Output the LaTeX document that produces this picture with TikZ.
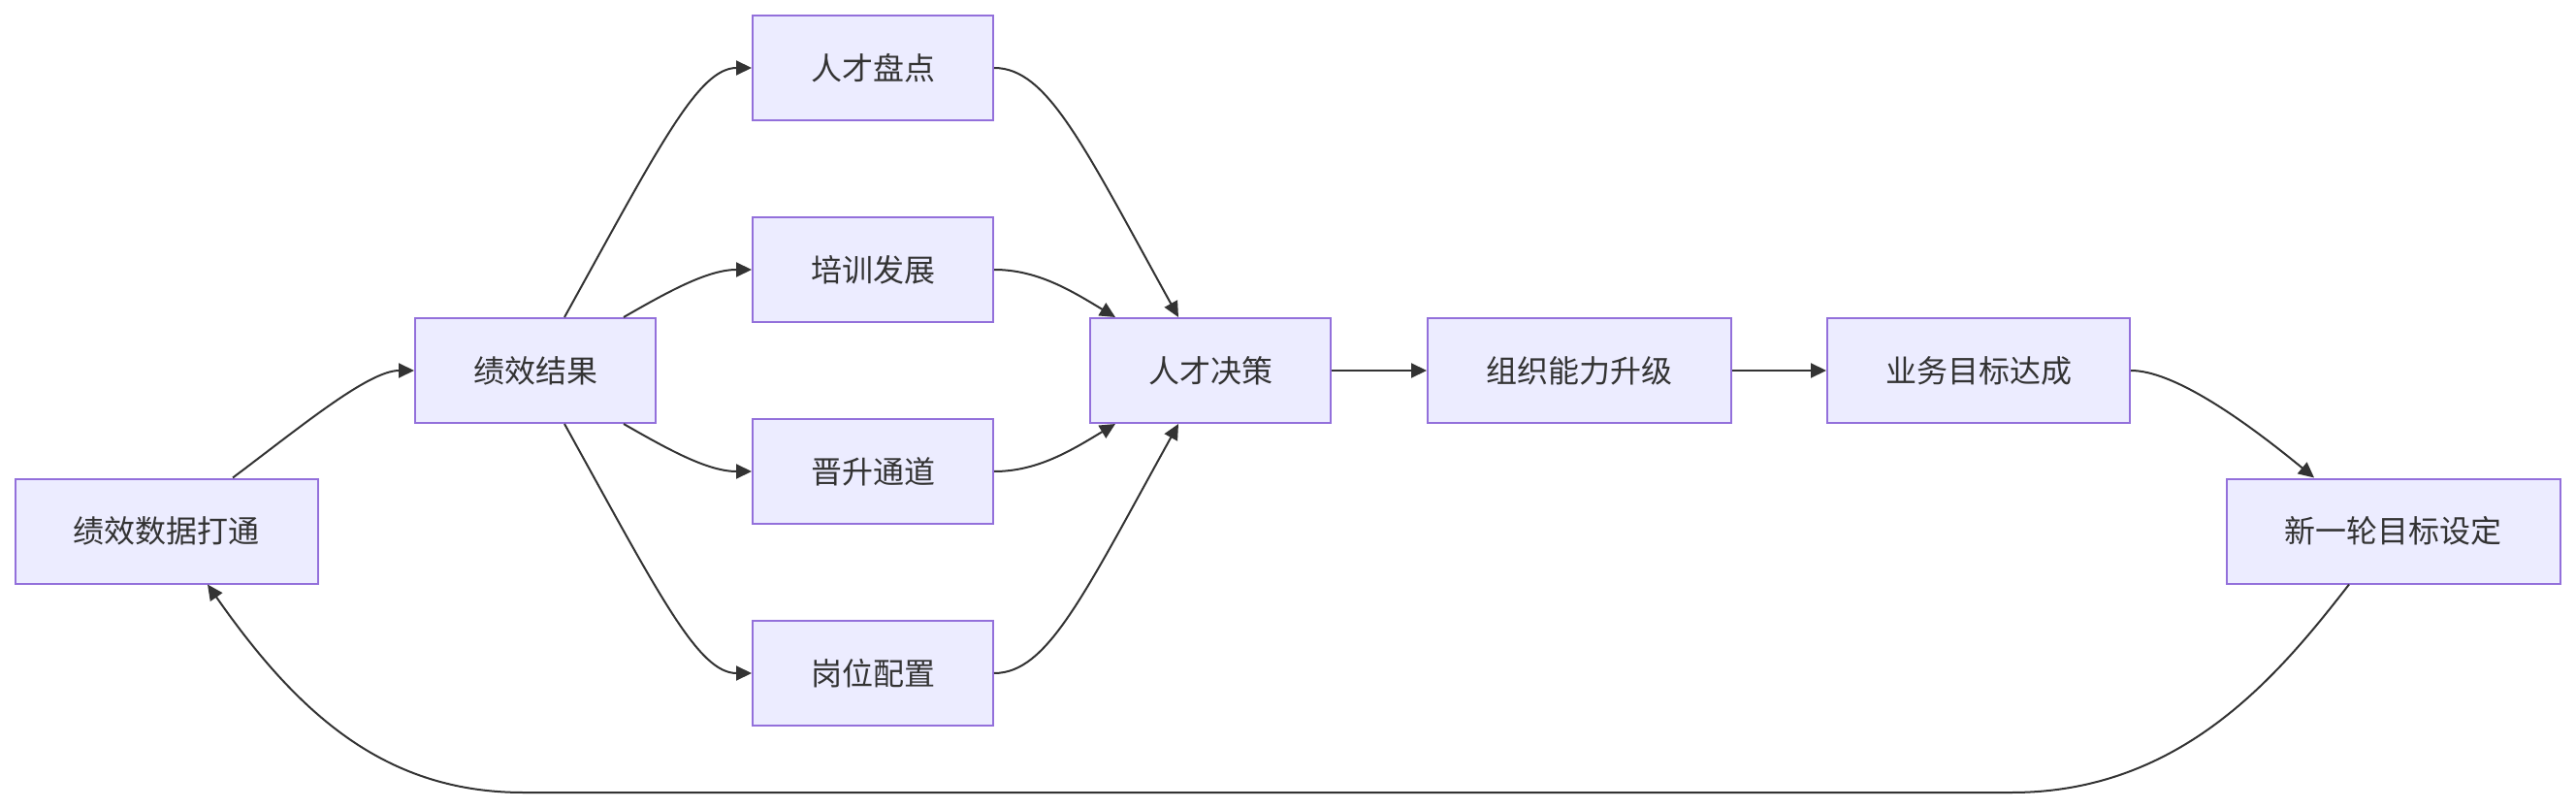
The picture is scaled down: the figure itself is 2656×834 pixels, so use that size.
\documentclass[tikz,border=0pt]{standalone}
\usepackage{fontspec}
\setmainfont{Noto Sans CJK SC}
\usetikzlibrary{arrows.meta,calc}
\definecolor{boxfill}{HTML}{ECECFF}
\definecolor{boxline}{HTML}{9370DB}
\definecolor{edgecol}{HTML}{333333}
\definecolor{txtcol}{HTML}{333333}
\begin{document}
\begin{tikzpicture}[x=1pt,y=-1pt,
  procbox/.style={draw=boxline,fill=boxfill,line width=2pt,inner sep=0pt,
    minimum height=108pt,text=txtcol,font=\fontsize{32pt}{38pt}\selectfont},
  flow/.style={draw=edgecol,line width=2pt,-{Triangle[length=16pt,width=15pt]}}]
\useasboundingbox (0,0) rectangle (2656,834);
\node[procbox,minimum width=312pt] (A) at (171.5,547.5) {绩效数据打通};
\node[procbox,minimum width=248pt] (B) at (552,382) {绩效结果};
\node[procbox,minimum width=248pt] (C1) at (900,70) {人才盘点};
\node[procbox,minimum width=248pt] (C2) at (900,278) {培训发展};
\node[procbox,minimum width=248pt] (C3) at (900,486) {晋升通道};
\node[procbox,minimum width=248pt] (C4) at (900,694) {岗位配置};
\node[procbox,minimum width=248pt] (D) at (1248,382) {人才决策};
\node[procbox,minimum width=313pt] (E) at (1628.5,382) {组织能力升级};
\node[procbox,minimum width=312pt] (F) at (2040,382) {业务目标达成};
\node[procbox,minimum width=344pt] (G) at (2467.5,547.5) {新一轮目标设定};

\draw[flow] ([xshift=68.5pt]A.north) .. controls (310,440) and (380,382) .. (B.west);
\draw[flow] ([xshift=30pt]B.north) .. controls (680,150) and (720,70) .. (C1.west);
\draw[flow] ([xshift=91pt]B.north) .. controls (690,300) and (730,278) .. (C2.west);
\draw[flow] ([xshift=91pt]B.south) .. controls (690,464) and (730,486) .. (C3.west);
\draw[flow] ([xshift=30pt]B.south) .. controls (680,614) and (720,694) .. (C4.west);
\draw[flow] (C1.east) .. controls (1080,70) and (1117,150) .. ([xshift=-33pt]D.north);
\draw[flow] (C2.east) .. controls (1070,278) and (1105,300) .. ([xshift=-98pt]D.north);
\draw[flow] (C3.east) .. controls (1070,486) and (1105,464) .. ([xshift=-98pt]D.south);
\draw[flow] (C4.east) .. controls (1080,694) and (1117,614) .. ([xshift=-33pt]D.south);
\draw[flow] (D.east) -- (E.west);
\draw[flow] (E.east) -- (F.west);
\draw[flow] (F.east) .. controls (2240,382) and (2310,430) .. ([xshift=-81.5pt]G.north);
\coordinate (LR) at (2074,817);
\coordinate (LL) at (540,817);
\draw[flow] ([xshift=-45.5pt]G.south) .. controls (2350,695) and (2250,817) .. (LR)
  -- (LL) .. controls (400,817) and (310,740) .. ([xshift=42.5pt]A.south);
\end{tikzpicture}
\end{document}
